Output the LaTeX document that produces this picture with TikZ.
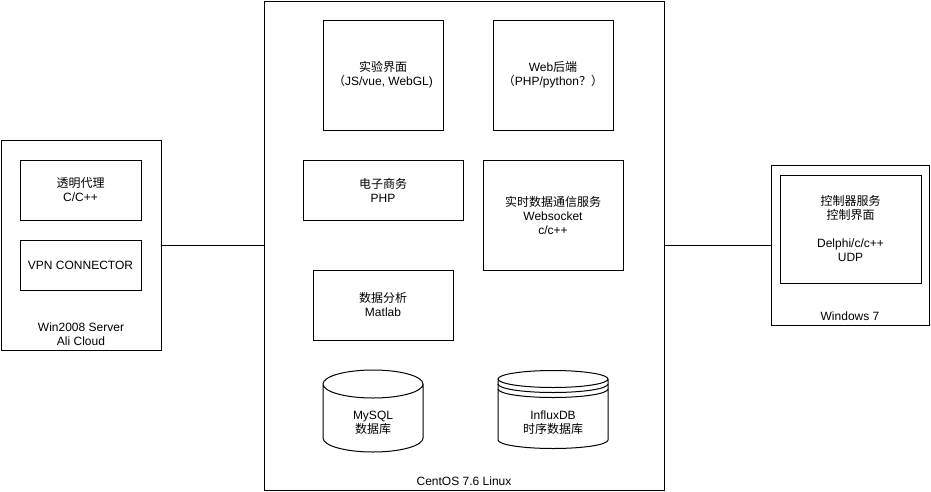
\documentclass[tikz,border=0pt]{standalone}
\usepackage{fontspec}
\setmainfont{Liberation Sans}
\newfontfamily\cjk{Noto Sans CJK SC}
\usepackage{tikz}

\begin{document}
\begin{tikzpicture}[x=1pt,y=-1pt,line width=1pt,
  box/.style={draw,inner sep=0pt,align=center,font=\fontsize{12}{14}\selectfont},
  txt/.style={inner sep=0pt,align=center,font=\fontsize{12}{14}\selectfont}]
\useasboundingbox (0,0) rectangle (931,491);

% Win2008 server
\node[box,minimum width=160pt,minimum height=210pt] (win) at (81,245) {};
\node[box,minimum width=121pt,minimum height=60pt] (proxy) at (80.5,190) {{\cjk 透明代理}\\C/C++};
\node[box,minimum width=121pt,minimum height=50pt] (vpn) at (80.5,265) {VPN CONNECTOR};
\node[txt] (winlbl) at (81,334) {Win2008 Server\\Ali Cloud};

% CentOS
\node[box,minimum width=400pt,minimum height=489pt] (centos) at (464,245.5) {};
\node[txt] (centoslbl) at (464,481) {CentOS 7.6 Linux};

\node[box,minimum width=120pt,minimum height=110pt] (ui) at (383,75) {{\cjk 实验界面}\\{\cjk （}JS/vue, WebGL)};
\node[box,minimum width=120pt,minimum height=110pt] (web) at (553,75) {Web{\cjk 后端}\\{\cjk （}PHP/python{\cjk ？）}};

\node[box,minimum width=160pt,minimum height=60pt] (shop) at (383,190) {{\cjk 电子商务}\\PHP};
\node[box,minimum width=140pt,minimum height=110pt] (rt) at (553,215) {{\cjk 实时数据通信服务}\\Websocket\\c/c++};
\node[box,minimum width=140pt,minimum height=70pt] (ana) at (383,305) {{\cjk 数据分析}\\Matlab};

% databases
\draw (323,384) -- (323,438) arc[start angle=180,end angle=360,x radius=50pt,y radius=14pt]
  -- (423,384) arc[start angle=0,end angle=180,x radius=50pt,y radius=14pt]
  arc[start angle=180,end angle=360,x radius=50pt,y radius=14pt];
\node[txt] (mysql) at (373,422.5) {MySQL\\{\cjk 数据库}};

\draw (498,379) -- (498,440) arc[start angle=180,end angle=360,x radius=55pt,y radius=8.5pt]
  -- (608,379) arc[start angle=0,end angle=180,x radius=55pt,y radius=8.5pt]
  arc[start angle=180,end angle=360,x radius=55pt,y radius=8.5pt];
\draw (498,384) arc[start angle=180,end angle=360,x radius=55pt,y radius=8.5pt];
\draw (498,389) arc[start angle=180,end angle=360,x radius=55pt,y radius=8.5pt];
\node[txt] (influx) at (553,423) {InfluxDB\\{\cjk 时序数据库}};

% Windows 7
\node[box,minimum width=158pt,minimum height=160pt] (win7) at (850,245) {};
\node[box,minimum width=141pt,minimum height=108pt] (ctrl) at (850.5,229) {{\cjk 控制器服务}\\{\cjk 控制界面}\\[14pt]Delphi/c/c++\\UDP};
\node[txt] (win7lbl) at (850,316) {Windows 7};

\draw (win.east) -- (win.east -| centos.west);
\draw (win7.west -| centos.east) -- (win7.west);
\end{tikzpicture}
\end{document}
